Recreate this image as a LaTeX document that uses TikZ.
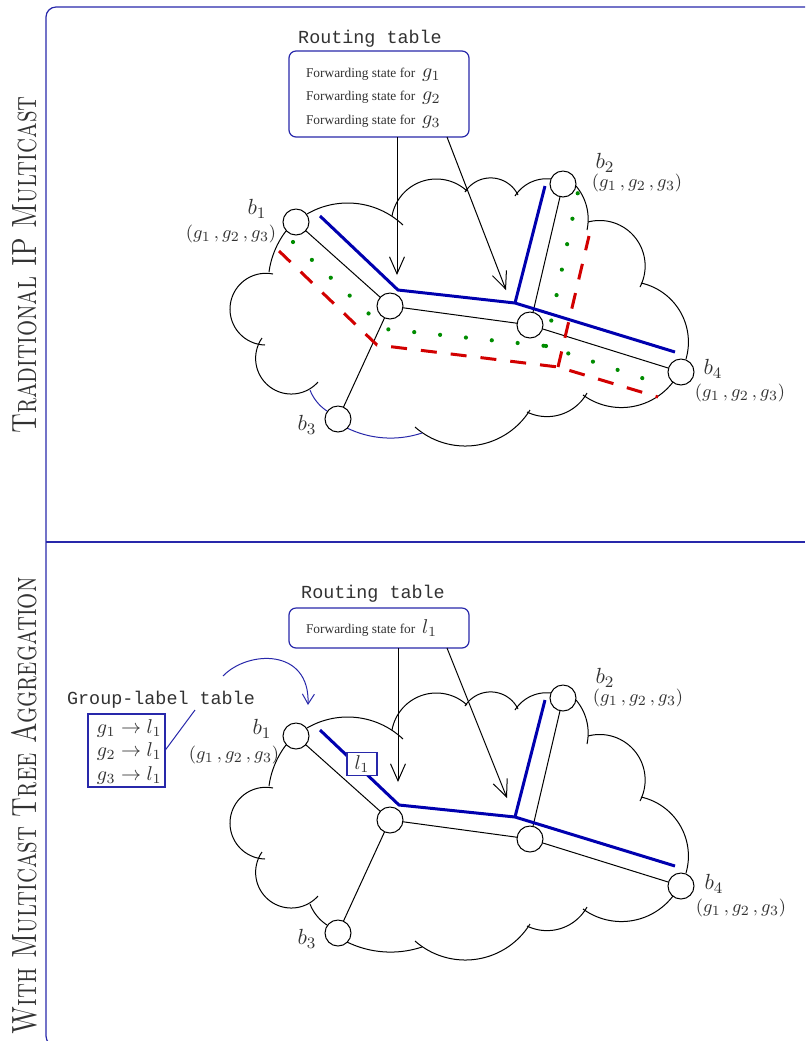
\documentclass[tikz,border=0pt]{standalone}
\usepackage{graphicx}
\usepackage{fontspec}
\setmonofont{Liberation Mono}
\newfontfamily\timesfont{Liberation Serif}
\usetikzlibrary{arrows.meta}
\definecolor{framecol}{RGB}{40,40,170}
\definecolor{treeblue}{RGB}{0,0,175}
\definecolor{treered}{RGB}{210,0,0}
\definecolor{treegreen}{RGB}{0,140,0}
\definecolor{labelgray}{RGB}{50,50,50}
\newcommand\fwd[1]{{\timesfont\fontsize{6.7pt}{8pt}\selectfont Forwarding state for} $#1$}
\newcommand\tup{$(g_1\,,g_2\,,g_3)$}
% circular arc through three points given in pixel coordinates
\newcommand\bump[7]{%
  \pgfmathsetmacro\bpbx{(#4-#2)/10}%
  \pgfmathsetmacro\bpby{(#5-#3)/10}%
  \pgfmathsetmacro\bpcx{(#6-#2)/10}%
  \pgfmathsetmacro\bpcy{(#7-#3)/10}%
  \pgfmathsetmacro\bpd{2*(\bpbx*\bpcy-\bpby*\bpcx)}%
  \pgfmathsetmacro\bpb{\bpbx*\bpbx+\bpby*\bpby}%
  \pgfmathsetmacro\bpc{\bpcx*\bpcx+\bpcy*\bpcy}%
  \pgfmathsetmacro\bpux{(\bpcy*\bpb-\bpby*\bpc)/\bpd}%
  \pgfmathsetmacro\bpuy{(\bpbx*\bpc-\bpcx*\bpb)/\bpd}%
  \pgfmathsetmacro\bpr{10*sqrt(\bpux*\bpux+\bpuy*\bpuy)}%
  \pgfmathsetmacro\bpox{#2+10*\bpux}%
  \pgfmathsetmacro\bpoy{#3+10*\bpuy}%
  \pgfmathsetmacro\bpta{atan2(-\bpuy,-\bpux)}%
  \pgfmathsetmacro\bptb{atan2(\bpby-\bpuy,\bpbx-\bpux)}%
  \pgfmathsetmacro\bptc{atan2(\bpcy-\bpuy,\bpcx-\bpux)}%
  \pgfmathsetmacro\bpdb{mod(\bptb-\bpta+720,360)}%
  \pgfmathsetmacro\bpdc{mod(\bptc-\bpta+720,360)}%
  \pgfmathsetmacro\bpte{\bpdb<\bpdc ? \bpta+\bpdc : \bpta+\bpdc-360}%
  \draw[#1] plot[domain=\bpta:\bpte, samples=40, smooth, variable=\t] ({\bpox+\bpr*cos(\t)},{\bpoy+\bpr*sin(\t)});%
}
\newcommand\cloudoutline[1]{%
  \bump{cloudarc}{307}{214}{347}{203}{403}{225}%
  \bump{cloudarc}{392}{216}{437}{179}{467}{191}%
  \bump{cloudarc}{465}{192}{493}{178}{518}{195}%
  \bump{cloudarc}{515}{196}{537}{180}{551}{179}%
  \bump{cloudarc}{576}{186}{588}{215}{587}{230}%
  \bump{cloudarc}{588}{222}{631}{233}{640}{287}%
  \bump{cloudarc}{641}{283}{683}{317}{686}{359}%
  \bump{cloudarc}{673}{382}{613}{407}{583}{395}%
  \bump{cloudarc}{587}{393}{567}{412}{527}{412}%
  \bump{cloudarc}{530}{410}{467}{446}{415}{427}%
  \bump{cloudarc,#1}{422}{433}{387}{438}{347}{428}%
  \bump{cloudarc,#1}{327}{411}{317}{402}{310}{390}%
  \bump{cloudarc}{318}{382}{290}{394}{262}{338}%
  \bump{cloudarc}{265}{345}{230}{310}{273}{274}%
  \bump{cloudarc}{269}{272}{275}{250}{286}{231}%
}
\begin{document}
\begin{tikzpicture}[x=0.5pt,y=-0.5pt,
  every node/.style={inner sep=0pt, outer sep=0pt},
  router/.style={circle, draw=black, line width=0.5pt, minimum size=13pt, fill=white},
  netedge/.style={black, line width=0.5pt},
  cloudarc/.style={black, line width=0.5pt},
  bluetree/.style={treeblue, line width=1.5pt},
  redtree/.style={treered, line width=1.5pt, dash pattern=on 8pt off 7pt},
  greentree/.style={treegreen, line width=2.1pt, line cap=round, dash pattern=on 0pt off 13pt},
  rtbox/.style={draw=framecol, rounded corners=3.5pt, line width=0.6pt, fill=white},
  glbox/.style={draw=framecol, line width=0.6pt, fill=white},
  ttitle/.style={font=\ttfamily\fontsize{9.2pt}{11pt}\selectfont, text=labelgray},
  blabel/.style={font=\fontsize{11pt}{13pt}\selectfont, text=labelgray},
  tlabel/.style={font=\fontsize{9.4pt}{11pt}\selectfont, text=labelgray},
  entry/.style={font=\fontsize{10pt}{12pt}\selectfont, text=labelgray, anchor=base west},
  fwdtext/.style={font=\fontsize{10pt}{12pt}\selectfont, text=labelgray, anchor=base west},
  arr/.style={black, line width=0.5pt, -{Straight Barb[length=8.5pt,width=7.5pt]}},
  bluearr/.style={framecol, line width=0.5pt, -{Straight Barb[length=5pt,width=6pt]}},
  sidetitle/.style={rotate=90, anchor=base, font=\fontsize{12.7pt}{15pt}\selectfont\scshape, text=labelgray}
]
\useasboundingbox (0,0) rectangle (805,1041);
\clip (0,0) rectangle (805,1041);

% frame
\draw[framecol, line width=0.6pt, rounded corners=5pt] (830,7) -- (46,7) -- (46,1046) -- (830,1046);
\draw[framecol, line width=0.6pt] (46,542) -- (805,542);
\node[sidetitle] (side1) at (36,265) {\scalebox{1}[1.38]{Traditional IP Multicast}};
\node[sidetitle] (side2) at (36,806) {\scalebox{1}[1.38]{With Multicast Tree Aggregation}};

% ================= top panel =================
\cloudoutline{framecol}
\node[router] (b1) at (296,222) {};
\node[router] (c1) at (390,306) {};
\node[router] (c2) at (530,325) {};
\node[router] (b2) at (563,184) {};
\node[router] (b3) at (338,419) {};
\node[router] (b4) at (681,372) {};
\draw[netedge] (b1) -- (c1);
\draw[netedge] (c1) -- (c2);
\draw[netedge] (c1) -- (b3);
\draw[netedge] (c2) -- (b4);
\draw[netedge] (c2) -- (b2);

\draw[redtree] (279,251) -- (377,345) -- (558,367) -- (658,397);
\draw[redtree] (558,367) -- (589,236);
\draw[greentree] (293,242) -- (385,329) -- (546,346) -- (648,380);
\draw[greentree] (546,346) -- (579,187);
\draw[bluetree] (320,216) -- (398,290) -- (515,303) -- (675,352);
\draw[bluetree] (515,303) -- (545,186);

\node[blabel] (lb1) at (257,209) {$b_1$};
\node[tlabel] (tb1) at (231,234) {\tup};
\node[blabel] (lb2) at (605,163) {$b_2$};
\node[tlabel] (tb2) at (637,183) {\tup};
\node[blabel] (lb4) at (713,369) {$b_4$};
\node[tlabel] (tb4) at (740,393) {\tup};
\node[blabel] (lb3) at (307,425) {$b_3$};

\node[ttitle] (rtt) at (370,39) {Routing table};
\node[rtbox, minimum width=90pt, minimum height=43pt] (rt) at (379,94) {};
\node[fwdtext] (f1) at (306,77) {\fwd{g_1}};
\node[fwdtext] (f2) at (306,100.5) {\fwd{g_2}};
\node[fwdtext] (f3) at (306,124) {\fwd{g_3}};
\coordinate (a1) at (397,275);
\coordinate (a2) at (506,290);
\draw[arr] (rt.south -| a1) -- (a1);
\draw[arr] ([xshift=34pt]rt.south) -- (a2);

% ================= bottom panel =================
\begin{scope}[yshift=-257pt]
\cloudoutline{black}
\node[router] (b1x) at (296,222) {};
\node[router] (c1x) at (390,306) {};
\node[router] (c2x) at (530,325) {};
\node[router] (b2x) at (563,184) {};
\node[router] (b3x) at (338,419) {};
\node[router] (b4x) at (681,372) {};
\draw[netedge] (b1x) -- (c1x);
\draw[netedge] (c1x) -- (c2x);
\draw[netedge] (c1x) -- (b3x);
\draw[netedge] (c2x) -- (b4x);
\draw[netedge] (c2x) -- (b2x);
\draw[bluetree] (320,216) -- (399,291) -- (515,303) -- (675,352);
\draw[bluetree] (515,303) -- (545,186);
\node[blabel] (lb1x) at (262,215) {$b_1$};
\node[tlabel] (tb1x) at (234,241) {\tup};
\node[blabel] (lb2x) at (605,164) {$b_2$};
\node[tlabel] (tb2x) at (638,184) {\tup};
\node[blabel] (lb4x) at (714,370) {$b_4$};
\node[tlabel] (tb4x) at (741,394) {\tup};
\node[blabel] (lb3x) at (307,425) {$b_3$};
\end{scope}

\node[glbox, minimum width=15pt, minimum height=11.5pt, font=\fontsize{10pt}{12pt}\selectfont, text=labelgray] (l1box) at (362,764) {$l_1$};

\node[ttitle] (rttx) at (373,594) {Routing table};
\node[rtbox, minimum width=90pt, minimum height=20pt] (rtx) at (379,628) {};
\node[fwdtext] (f1x) at (306,633) {\fwd{l_1}};
\coordinate (a1x) at (398,782);
\coordinate (a2x) at (507,798);
\draw[arr] (rtx.south -| a1x) -- (a1x);
\draw[arr] ([xshift=34pt]rtx.south) -- (a2x);

\node[ttitle] (glt) at (161,700) {Group-label table};
\node[glbox, minimum width=38.5pt, minimum height=36.5pt] (gl) at (126.5,750.5) {};
\node[entry] (e1) at (97,733) {$g_1\rightarrow l_1$};
\node[entry] (e2) at (97,756.5) {$g_2\rightarrow l_1$};
\node[entry] (e3) at (97,780) {$g_3\rightarrow l_1$};
\coordinate (callout) at (195,710);
\draw[framecol, line width=0.5pt] (gl.east) -- (callout);
\coordinate (cs) at (223,676);
\coordinate (ce) at (308,705);
\draw[bluearr] (cs) .. controls (248,650) and (310,648) .. (ce);
\end{tikzpicture}
\end{document}
